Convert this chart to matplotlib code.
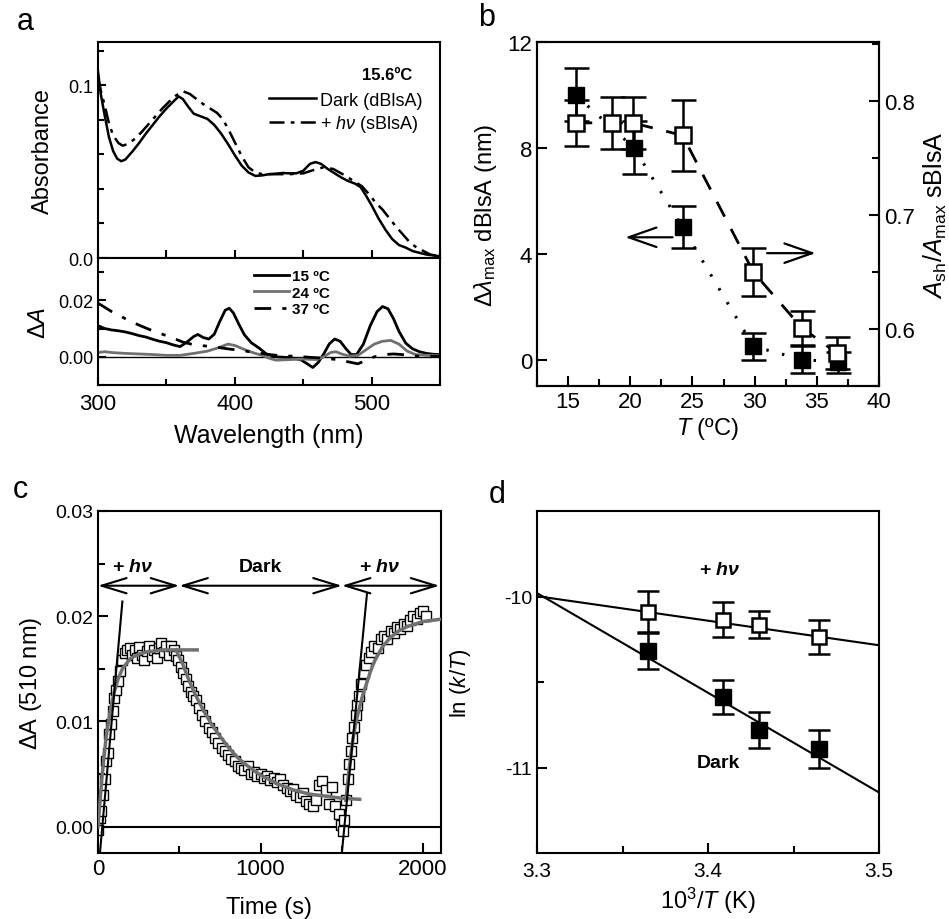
import matplotlib
matplotlib.use("Agg")
import matplotlib.pyplot as plt
from matplotlib.ticker import MultipleLocator, FixedLocator

plt.rcParams['font.family'] = ['Liberation Sans', 'DejaVu Sans']
plt.rcParams['mathtext.fontset'] = 'custom'
plt.rcParams['mathtext.rm'] = 'Liberation Sans'
plt.rcParams['mathtext.it'] = 'Liberation Sans:italic'
plt.rcParams['mathtext.bf'] = 'Liberation Sans:bold'
plt.rcParams['mathtext.bfit'] = 'Liberation Sans:italic:bold'
plt.rcParams['axes.unicode_minus'] = False
plt.rcParams['axes.linewidth'] = 1.5

# ---------------- Panel a data ----------------
wl_dark = [300, 302, 305, 308, 311, 314, 317, 320, 325, 330, 335, 340, 345, 350, 355, 359, 362, 366, 370, 375,
           380, 385, 390, 395, 400, 405, 410, 415, 420, 425, 430, 435, 440, 445, 450, 455, 459, 463, 468, 473,
           478, 483, 488, 492, 496, 500, 505, 510, 515, 520, 525, 530, 535, 540, 545, 550]
abs_dark = [0.108, 0.095, 0.082, 0.070, 0.062, 0.0575, 0.056, 0.057, 0.0615, 0.0665, 0.072, 0.077, 0.082, 0.0865,
            0.0905, 0.0935, 0.092, 0.0875, 0.0835, 0.082, 0.0805, 0.077, 0.072, 0.066, 0.0595, 0.0535, 0.0495,
            0.0475, 0.0478, 0.0485, 0.0488, 0.0492, 0.049, 0.049, 0.0505, 0.0545, 0.0555, 0.0545, 0.0515, 0.049,
            0.0465, 0.0445, 0.043, 0.041, 0.036, 0.0305, 0.023, 0.0165, 0.011, 0.0075, 0.006, 0.004, 0.003,
            0.002, 0.0015, 0.001]
wl_light = [300, 302, 305, 308, 311, 315, 318, 322, 327, 332, 337, 342, 347, 352, 357, 362, 367, 372, 377, 382,
            387, 391, 395, 400, 405, 410, 415, 420, 430, 440, 450, 458, 465, 472, 480, 487, 493, 498, 503, 508,
            513, 518, 523, 528, 533, 538, 543, 550]
abs_light = [0.104, 0.097, 0.088, 0.078, 0.071, 0.0665, 0.065, 0.066, 0.069, 0.073, 0.0775, 0.082, 0.0865, 0.0905,
             0.094, 0.0965, 0.095, 0.092, 0.089, 0.0865, 0.084, 0.0805, 0.075, 0.067, 0.059, 0.0525, 0.0495,
             0.0485, 0.0485, 0.0485, 0.049, 0.051, 0.0525, 0.0515, 0.048, 0.0445, 0.0415, 0.037, 0.032, 0.028,
             0.023, 0.018, 0.0135, 0.009, 0.006, 0.004, 0.002, 0.001]

wl_15 = [300, 305, 310, 315, 320, 325, 330, 335, 340, 345, 350, 355, 360, 365, 370, 373, 377, 381, 385, 389,
         393, 396, 399, 403, 407, 412, 418, 423, 430, 440, 448, 453, 457, 461, 465, 469, 473, 477, 481, 485,
         489, 494, 499, 504, 508, 512, 516, 520, 525, 530, 535, 540, 545, 550]
dA_15 = [0.0110, 0.0100, 0.0095, 0.0092, 0.0088, 0.0082, 0.0075, 0.0070, 0.0062, 0.0055, 0.0050, 0.0042, 0.0036,
         0.0052, 0.0072, 0.0079, 0.0068, 0.0063, 0.0080, 0.0125, 0.0165, 0.0172, 0.0155, 0.0115, 0.0078, 0.0050,
         0.0030, 0.0010, 0.0000, -0.0003, -0.0010, -0.0025, -0.0038, -0.0020, 0.0010, 0.0045, 0.0063, 0.0055,
         0.0030, 0.0008, 0.0008, 0.0045, 0.0110, 0.0160, 0.0178, 0.0170, 0.0135, 0.0090, 0.0048, 0.0028, 0.0018,
         0.0012, 0.0009, 0.0008]
wl_24 = [300, 305, 310, 320, 330, 340, 350, 360, 370, 380, 388, 395, 400, 405, 410, 415, 420, 425, 430, 440,
         450, 460, 465, 470, 474, 478, 484, 490, 496, 502, 508, 514, 520, 526, 532, 540, 550]
dA_24 = [0.0015, 0.0018, 0.0015, 0.0012, 0.0010, 0.0008, 0.0005, 0.0005, 0.0012, 0.0020, 0.0032, 0.0045, 0.0040,
         0.0030, 0.0020, 0.0012, 0.0005, -0.0005, -0.0012, -0.0010, -0.0008, -0.0010, 0.0000, 0.0015, 0.0018,
         0.0010, 0.0002, 0.0005, 0.0025, 0.0045, 0.0055, 0.0058, 0.0045, 0.0020, 0.0008, 0.0005, 0.0005]
wl_37 = [300, 305, 310, 320, 330, 340, 350, 357, 362, 368, 375, 385, 395, 405, 415, 425, 435, 445, 455, 465, 475,
         483, 490, 496, 502, 510, 516, 522, 530, 540, 550]
dA_37 = [0.0190, 0.0175, 0.0160, 0.0135, 0.0112, 0.0092, 0.0075, 0.0062, 0.0052, 0.0045, 0.0040, 0.0035, 0.0028,
         0.0022, 0.0015, 0.0008, 0.0003, 0.0002, -0.0002, -0.0005, -0.0010, -0.0018, -0.0025, -0.0012, 0.0000,
         0.0008, 0.0010, 0.0008, 0.0003, 0.0002, 0.0002]

# ---------------- Panel b data ----------------
T_dark = [15.6, 20.3, 24.2, 29.9, 33.8, 36.7]
dlam = [10.0, 8.0, 5.0, 0.5, 0.0, -0.1]
dlam_err = [1.0, 1.0, 0.8, 0.5, 0.5, 0.4]
T_light = [15.6, 18.5, 20.2, 24.2, 29.9, 33.8, 36.6]
ratio = [0.781, 0.781, 0.781, 0.770, 0.650, 0.601, 0.579]
ratio_err = [0.020, 0.023, 0.023, 0.031, 0.021, 0.015, 0.014]

# ---------------- Panel c data ----------------
t_s = [0, 10, 20, 30, 40, 50, 60, 70, 80, 90, 100, 110, 120, 135, 150, 165, 180, 195, 210, 225, 240, 255, 270,
       285, 300, 315, 330, 345, 360, 375, 390, 405, 420, 435, 450, 465, 480, 495, 510, 525, 540, 555, 570, 585,
       600, 620, 640, 660, 680, 700, 720, 740, 760, 780, 800, 820, 840, 860, 880, 900, 920, 940, 960, 980, 1000,
       1020, 1040, 1060, 1080, 1100, 1120, 1140, 1160, 1180, 1200, 1220, 1240, 1260, 1280, 1300, 1320, 1340,
       1360, 1380, 1400, 1420, 1440, 1460, 1480, 1495, 1505, 1515, 1525, 1535, 1545, 1555, 1565, 1575, 1585,
       1595, 1605, 1620, 1635, 1650, 1665, 1680, 1700, 1720, 1740, 1760, 1780, 1800, 1820, 1840, 1860, 1880,
       1900, 1920, 1940, 1960, 1980, 2000, 2020]
dA510 = [-0.0003, 0.0008, 0.0015, 0.0030, 0.0045, 0.0062, 0.0070, 0.0088, 0.0098, 0.0110, 0.0122, 0.0130, 0.0138,
         0.0148, 0.0158, 0.0165, 0.0168, 0.0170, 0.0163, 0.0168, 0.0160, 0.0171, 0.0163, 0.0158, 0.0167, 0.0172,
         0.0162, 0.0168, 0.0160, 0.0170, 0.0175, 0.0166, 0.0172, 0.0163, 0.0172, 0.0168, 0.0162, 0.0158, 0.0152,
         0.0146, 0.0140, 0.0134, 0.0128, 0.0124, 0.0120, 0.0113, 0.0106, 0.0100, 0.0094, 0.0090, 0.0084, 0.0080,
         0.0075, 0.0072, 0.0068, 0.0064, 0.0062, 0.0058, 0.0056, 0.0054, 0.0058, 0.0050, 0.0052, 0.0048, 0.0050,
         0.0046, 0.0048, 0.0044, 0.0046, 0.0042, 0.0045, 0.0040, 0.0037, 0.0034, 0.0036, 0.0030, 0.0028, 0.0032,
         0.0024, 0.0022, 0.0020, 0.0025, 0.0040, 0.0043, 0.0035, 0.0022, 0.0038, 0.0020, 0.0012, 0.0002, -0.0004,
         0.0006, 0.0025, 0.0045, 0.0060, 0.0072, 0.0084, 0.0095, 0.0106, 0.0116, 0.0124, 0.0136, 0.0146, 0.0154,
         0.0160, 0.0166, 0.0172, 0.0170, 0.0178, 0.0181, 0.0178, 0.0186, 0.0184, 0.0190, 0.0188, 0.0193, 0.0191,
         0.0196, 0.0200, 0.0197, 0.0203, 0.0205, 0.0200]
fit1_t = [0, 25, 50, 75, 100, 125, 150, 200, 250, 300, 400, 500, 610]
fit1_v = [0.0, 0.0048, 0.0085, 0.0110, 0.0128, 0.0141, 0.0150, 0.0160, 0.0164, 0.0166, 0.0168, 0.0168, 0.0168]
fit2_t = [480, 520, 560, 600, 650, 700, 750, 800, 850, 900, 1000, 1100, 1200, 1300, 1400, 1500, 1610]
fit2_v = [0.0168, 0.0155, 0.0139, 0.0125, 0.0110, 0.0097, 0.0086, 0.0076, 0.0067, 0.0060, 0.0049, 0.0041, 0.0035,
          0.0031, 0.0029, 0.0027, 0.0026]
fit3_t = [1525, 1545, 1565, 1585, 1600, 1625, 1650, 1675, 1700, 1750, 1800, 1850, 1900, 2000, 2100]
fit3_v = [0.0025, 0.0055, 0.0080, 0.0098, 0.0108, 0.0123, 0.0135, 0.0147, 0.0157, 0.0171, 0.0180, 0.0186, 0.0190,
          0.0195, 0.0197]
tan1_t = [12, 150]
tan1_v = [-0.0025, 0.0214]
tan2_t = [1500, 1655]
tan2_v = [-0.0025, 0.0222]
period_edges = [0, 500, 1500, 2100]
period_labels = ['+ $\\mathbfit{h\\nu}$', 'Dark', '+ $\\mathbfit{h\\nu}$']
period_label_t = [215, 1000, 1735]

# ---------------- Panel d data ----------------
invT_light = [3.365, 3.409, 3.430, 3.465]
lnk_light = [-10.09, -10.135, -10.165, -10.235]
lnk_light_err = [0.12, 0.10, 0.08, 0.10]
invT_dark = [3.365, 3.409, 3.430, 3.465]
lnk_dark = [-10.32, -10.59, -10.78, -10.89]
lnk_dark_err = [0.105, 0.10, 0.105, 0.11]
fitL_x = [3.30, 3.50]
fitL_y = [-9.998, -10.285]
fitD_x = [3.30, 3.50]
fitD_y = [-9.98, -11.146]

W, H = 949, 920
fig = plt.figure(figsize=(W / 100, H / 100), dpi=100)


def ax_px(l, t, r, b):
    return fig.add_axes([l / W, 1 - b / H, (r - l) / W, (b - t) / H])


def style(ax, major=6, minor=4):
    ax.tick_params(which='both', direction='in', width=1.5)
    ax.tick_params(which='major', length=major)
    ax.tick_params(which='minor', length=minor)


GRAY = '#707070'

# ---------------- Panel a ----------------
axa = ax_px(98, 43, 440, 259)
axa2 = ax_px(98, 259, 440, 386)
axa.plot(wl_dark, abs_dark, color='black', lw=1.8, label='Dark (dBlsA)')
axa.plot(wl_light, abs_light, color='black', lw=1.8, ls=(0, (6, 2.5, 1.5, 2.5)), label='+ $h\\nu$ (sBlsA)')
axa.set_xlim(300, 550)
axa.set_ylim(0, 0.125)
axa.yaxis.set_major_locator(FixedLocator([0.0, 0.1]))
axa.yaxis.set_minor_locator(MultipleLocator(0.02))
axa.set_yticklabels(['0.0', '0.1'])
axa.xaxis.set_major_locator(MultipleLocator(50))
axa.tick_params(axis='x', labelbottom=False)
style(axa)
axa.tick_params(axis='y', labelsize=13)
axa.set_ylabel('Absorbance', fontsize=17, labelpad=10)
axa.text(0.845, 0.85, '15.6ºC', transform=axa.transAxes, fontsize=12, fontweight='bold', ha='center', va='center')
axa.legend(loc='upper left', bbox_to_anchor=(0.50, 0.77), frameon=False, fontsize=13, handlelength=2.6,
           handletextpad=0.2, borderpad=0, labelspacing=0.25, borderaxespad=0)

axa2.axhline(0, color='black', lw=1.0)
axa2.plot(wl_15, dA_15, color='black', lw=2.0, label='15 ºC')
axa2.plot(wl_24, dA_24, color=GRAY, lw=2.0, label='24 ºC')
axa2.plot(wl_37, dA_37, color='black', lw=2.0, ls=(0, (6, 4, 1.5, 4)), label='37 ºC')
axa2.set_xlim(300, 550)
axa2.set_ylim(-0.01, 0.035)
axa2.xaxis.set_major_locator(MultipleLocator(100))
axa2.xaxis.set_minor_locator(MultipleLocator(50))
axa2.yaxis.set_major_locator(FixedLocator([0.0, 0.02]))
axa2.yaxis.set_minor_locator(MultipleLocator(0.01))
axa2.set_yticklabels(['0.00', '0.02'])
style(axa2)
axa2.tick_params(axis='y', labelsize=13)
axa2.tick_params(axis='x', labelsize=16, pad=6)
axa2.set_ylabel('$\\Delta A$', fontsize=17, labelpad=6)
axa2.set_xlabel('Wavelength (nm)', fontsize=18, labelpad=6)
axa2.legend(loc='upper left', bbox_to_anchor=(0.455, 0.91), frameon=False, handlelength=2.3,
            handletextpad=0.2, borderpad=0, labelspacing=0.15, borderaxespad=0,
            prop={'weight': 'bold', 'size': 11})

# ---------------- Panel b ----------------
axb = ax_px(537, 43, 879, 387)
axb2 = axb.twinx()
axb.plot(T_dark, dlam, color='black', lw=2.2, ls=(0, (0.8, 4.5)), zorder=2)
axb.errorbar(T_dark, dlam, yerr=dlam_err, fmt='s', color='black', ms=12, mfc='black', mec='black',
             ecolor='black', elinewidth=1.8, capsize=9, capthick=1.8, zorder=3)
axb2.plot(T_light, ratio, color='black', lw=2.0, ls=(0, (6, 5)), zorder=2)
axb2.errorbar(T_light, ratio, yerr=ratio_err, fmt='s', color='black', ms=11, mfc='white', mec='black', mew=1.8,
              ecolor='black', elinewidth=1.8, capsize=9, capthick=1.8, zorder=3)
axb.set_xlim(12.5, 40)
axb.set_ylim(-1, 12)
axb2.set_ylim(0.55, 0.852)
axb.xaxis.set_major_locator(MultipleLocator(5))
axb.xaxis.set_minor_locator(MultipleLocator(2.5))
axb.yaxis.set_major_locator(MultipleLocator(4))
axb2.yaxis.set_major_locator(FixedLocator([0.6, 0.7, 0.8]))
axb2.yaxis.set_minor_locator(MultipleLocator(0.05))
style(axb, 7, 5)
style(axb2, 7, 5)
axb.tick_params(labelsize=16)
axb2.tick_params(labelsize=16)
axb.set_xlabel('$T$ (ºC)', fontsize=17, labelpad=2)
axb.set_ylabel('$\\Delta\\lambda_{\\mathrm{max}}$ dBlsA (nm)', fontsize=17, labelpad=6)
axb2.set_ylabel('$A_{\\mathrm{sh}}/A_{\\mathrm{max}}$ sBlsA', fontsize=18, labelpad=5)
arrow_l = dict(arrowstyle='->, head_length=2.0, head_width=0.7', lw=1.6, color='black', shrinkA=0, shrinkB=0)
axb.annotate('', xy=(19.6, 4.62), xytext=(23.4, 4.62), arrowprops=arrow_l)
axb.annotate('', xy=(34.9, 4.02), xytext=(31.0, 4.02), arrowprops=arrow_l)

# ---------------- Panel c ----------------
axc = ax_px(98, 512, 441, 854)
axc.axhline(0, color='black', lw=1.5, zorder=1)
axc.plot(t_s, dA510, ls='none', marker='s', ms=7, mfc='white', mec='black', mew=1.0, zorder=2)
axc.plot(fit1_t, fit1_v, color=GRAY, lw=2.5, zorder=3)
axc.plot(fit2_t, fit2_v, color=GRAY, lw=2.5, zorder=3)
axc.plot(fit3_t, fit3_v, color=GRAY, lw=2.5, zorder=3)
axc.plot(tan1_t, tan1_v, color='black', lw=1.5, zorder=4)
axc.plot(tan2_t, tan2_v, color='black', lw=1.5, zorder=4)
axc.set_xlim(0, 2110)
axc.set_ylim(-0.0025, 0.03)
axc.xaxis.set_major_locator(MultipleLocator(1000))
axc.xaxis.set_minor_locator(MultipleLocator(500))
axc.yaxis.set_major_locator(MultipleLocator(0.01))
axc.yaxis.set_minor_locator(MultipleLocator(0.005))
axc.yaxis.set_major_formatter(matplotlib.ticker.FormatStrFormatter('%.2f'))
style(axc, 7, 5)
axc.tick_params(axis='y', labelsize=14)
axc.tick_params(axis='x', labelsize=16)
axc.set_xlabel('Time (s)', fontsize=17, labelpad=12)
axc.set_ylabel('$\\Delta$A (510 nm)', fontsize=17, labelpad=8)
arrow_d = dict(arrowstyle='<->, head_length=1.8, head_width=0.55', lw=1.5, color='black', shrinkA=0, shrinkB=0)
for i in range(len(period_labels)):
    a, b = period_edges[i], period_edges[i + 1]
    axc.annotate('', xy=(a, 0.0229), xytext=(b, 0.0229), arrowprops=arrow_d)
    axc.text(period_label_t[i], 0.0247, period_labels[i], fontsize=14, fontweight='bold',
             ha='center', va='center')

# ---------------- Panel d ----------------
axd = ax_px(537, 512, 879, 854)
axd.plot(fitL_x, fitL_y, color='black', lw=1.5)
axd.plot(fitD_x, fitD_y, color='black', lw=1.5)
axd.errorbar(invT_light, lnk_light, yerr=lnk_light_err, fmt='s', ms=10, mfc='white', mec='black', mew=1.8,
             ecolor='black', elinewidth=1.8, capsize=8, capthick=1.8, zorder=3)
axd.errorbar(invT_dark, lnk_dark, yerr=lnk_dark_err, fmt='s', ms=12, mfc='black', mec='black',
             ecolor='black', elinewidth=1.8, capsize=8, capthick=1.8, zorder=3)
axd.set_xlim(3.3, 3.5)
axd.set_ylim(-11.5, -9.5)
axd.xaxis.set_major_locator(MultipleLocator(0.1))
axd.xaxis.set_minor_locator(MultipleLocator(0.05))
axd.xaxis.set_major_formatter(matplotlib.ticker.FormatStrFormatter('%.1f'))
axd.yaxis.set_major_locator(FixedLocator([-11, -10]))
axd.yaxis.set_minor_locator(FixedLocator([-10.5]))
axd.yaxis.set_major_formatter(matplotlib.ticker.FormatStrFormatter('%d'))
style(axd, 7, 5)
axd.tick_params(axis='y', labelsize=14)
axd.tick_params(axis='x', labelsize=15, pad=6)
axd.set_xlabel('10$^3$/$T$ (K)', fontsize=17, labelpad=3)
axd.set_ylabel('ln ($k$/$T$)', fontsize=16, labelpad=22)
axd.text(3.407, -9.84, '+ $\\mathbfit{h\\nu}$', fontsize=14, fontweight='bold', ha='center', va='center')
axd.text(3.406, -10.97, 'Dark', fontsize=14, fontweight='bold', ha='center', va='center')

# ---------------- panel letters ----------------
for letter, x, y in [('a', 25, 22), ('b', 487, 18), ('c', 20, 490), ('d', 497, 495)]:
    fig.text(x / W, 1 - y / H, letter, fontsize=22, ha='center', va='center')

fig.savefig('out.png', dpi=100)
